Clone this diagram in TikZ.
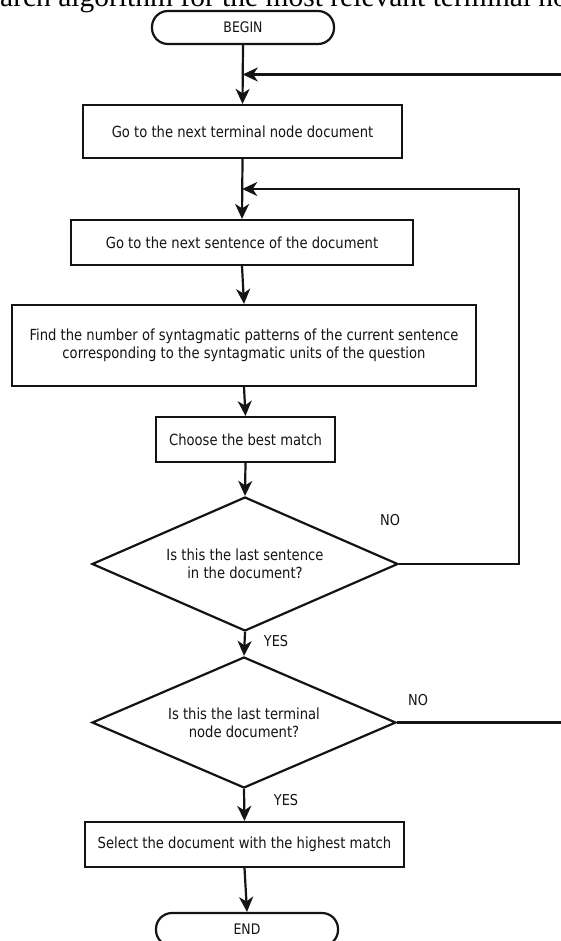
\documentclass[tikz,border=0pt]{standalone}
\usepackage{fontspec}
\setmainfont[FakeStretch=0.86]{DejaVu Sans}
\newfontfamily\capfont{Liberation Serif}
\usetikzlibrary{shapes.geometric,arrows.meta,calc}
\definecolor{ink}{HTML}{141414}
\begin{document}
\begin{tikzpicture}[x=1pt,y=-1pt,
  every node/.style={text=ink},
  boxnode/.style={draw=ink, line width=2.2pt, rectangle, inner sep=0pt, align=center,
    font=\fontsize{15.3}{17.5}\selectfont},
  termnode/.style={boxnode, rounded corners=16pt, font=\fontsize{14.5}{16}\selectfont},
  decnode/.style={draw=ink, line width=2.2pt, diamond, shape aspect=2.28, inner sep=0pt, align=center,
    font=\fontsize{15.3}{18}\selectfont},
  lbl/.style={inner sep=0pt, font=\fontsize{15}{16}\selectfont},
  conn/.style={draw=ink, line width=2.2pt, -{Stealth[length=15pt,width=14pt,inset=4.5pt]}},
  plain/.style={draw=ink, line width=2.2pt}]
\useasboundingbox (0,0) rectangle (560,941);
\fill[white] (0,0) rectangle (560,941);

% cut-off caption at the top
\begin{scope}
\clip (0,0) rectangle (560,941);
\node[anchor=base west, inner sep=0pt, text=black, font=\capfont\fontsize{29.5}{31}\selectfont] (cap) at (0,7) {arch algorithm for the most relevant terminal no};
\end{scope}

\node[termnode, minimum width=182, minimum height=33] (begin) at (243,27.5) {BEGIN};
\node[boxnode, minimum width=319, minimum height=53] (b1) at (242.5,131.5) {Go to the next terminal node document};
\node[boxnode, minimum width=342, minimum height=45] (b2) at (242,242.5) {Go to the next sentence of the document};
\node[boxnode, minimum width=464, minimum height=81] (b3) at (244,345.5) {Find the number of syntagmatic patterns of the current sentence\\corresponding to the syntagmatic units of the question};
\node[boxnode, minimum width=179, minimum height=45] (b4) at (245.5,439.5) {Choose the best match};
\node[decnode, minimum width=306, minimum height=134] (d1) at (245,564) {Is this the last sentence\\in the document?};
\node[decnode, minimum width=304, minimum height=131] (d2) at (244,722.5) {Is this the last terminal\\node document?};
\node[boxnode, minimum width=319, minimum height=45] (b5) at (244.5,844.5) {Select the document with the highest match};
\node[termnode, minimum width=182, minimum height=33] (end) at (247,929.5) {END};

\node[lbl] (no1) at (390,520) {NO};
\node[lbl] (no2) at (418,700) {NO};
\node[lbl] (yes1) at (276,641) {YES};
\node[lbl] (yes2) at (286,800) {YES};

\coordinate (j1) at ($(begin.south)!0.5!(b1.north)$);
\coordinate (j2) at ($(b1.south)!0.5!(b2.north)$);
\coordinate (r1) at (519,0);
\coordinate (r2) at (564,0);

\draw[conn] (begin.south) -- (b1.north);
\draw[conn] (b1.south) -- (b2.north);
\draw[conn] (b2.south) -- (b3.north);
\draw[conn] (b3.south) -- (b4.north);
\draw[conn] (b4.south) -- (d1.north);
\draw[conn] (d1.south) -- (d2.north);
\draw[conn] (d2.south) -- (b5.north);
\draw[conn] (b5.south) -- (end.north);

\draw[conn] (d1.east) -- (d1.east -| r1) |- (j2);
\draw[conn] (d2.east) -- (d2.east -| r2) |- (j1);
\end{tikzpicture}
\end{document}
